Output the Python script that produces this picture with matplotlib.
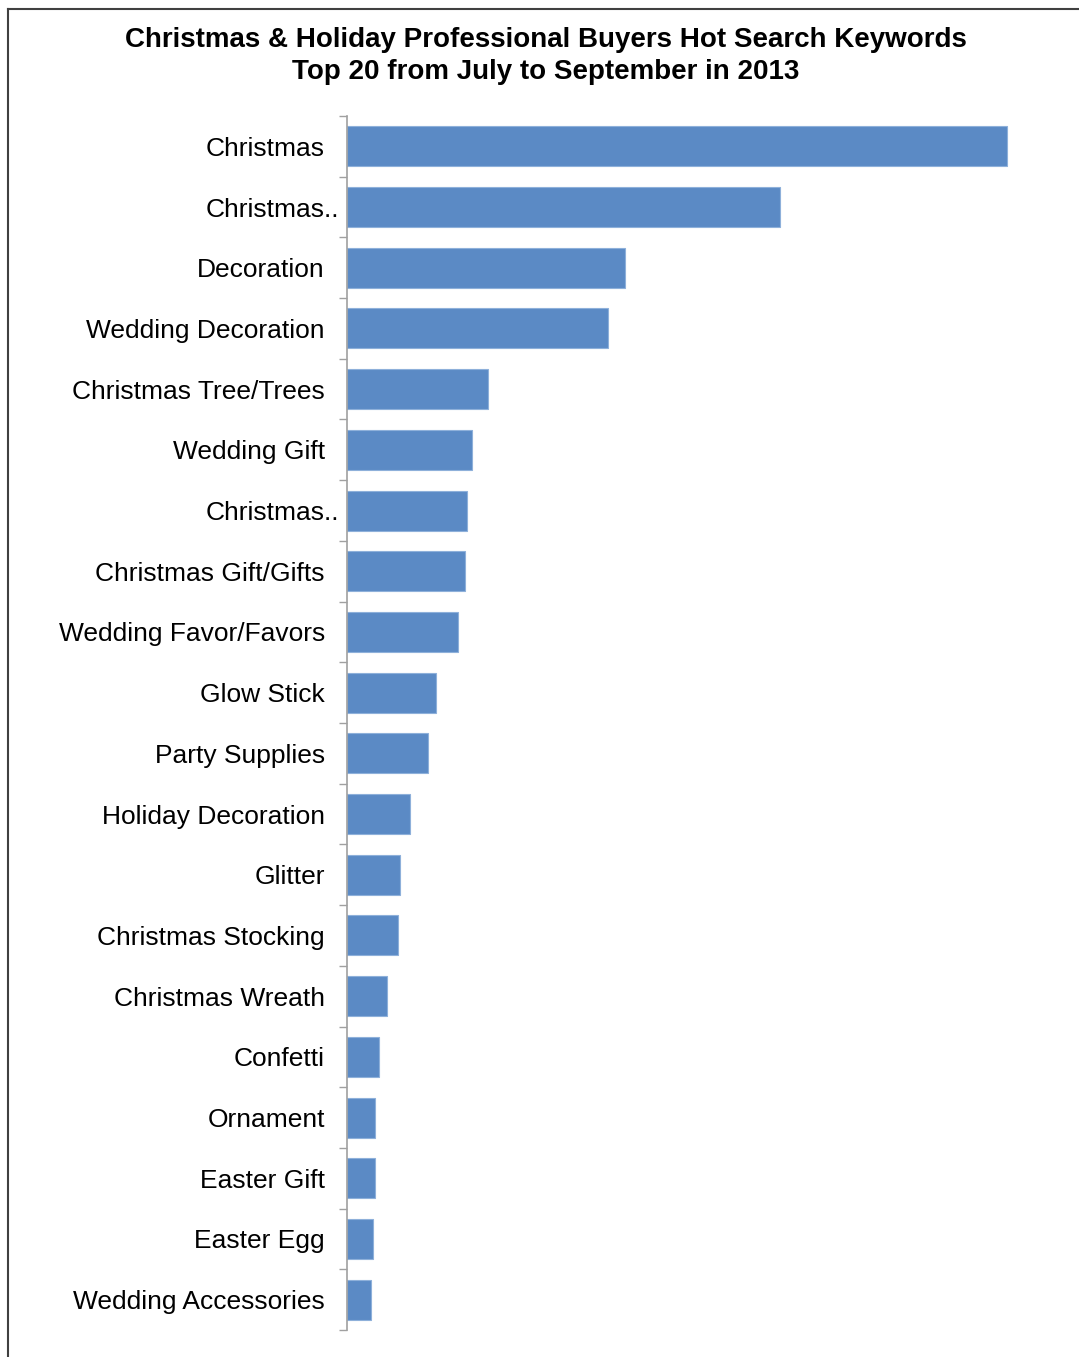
import numpy as np
import matplotlib.pyplot as plt
import matplotlib.transforms as mtransforms
from matplotlib.lines import Line2D

# keyword search volume (relative units)
keywords = [
    "Christmas", "Christmas..", "Decoration", "Wedding Decoration",
    "Christmas Tree/Trees", "Wedding Gift", "Christmas..", "Christmas Gift/Gifts",
    "Wedding Favor/Favors", "Glow Stick", "Party Supplies", "Holiday Decoration",
    "Glitter", "Christmas Stocking", "Christmas Wreath", "Confetti",
    "Ornament", "Easter Gift", "Easter Egg", "Wedding Accessories",
]
values = [660, 433, 278, 261, 141, 125, 120, 118, 111, 89,
          81, 63, 53, 51, 40, 32, 28, 28, 26, 24]

plt.rcParams['font.family'] = ['Liberation Sans', 'DejaVu Sans']

fig = plt.figure(figsize=(10.79, 13.57), dpi=100)
ax = fig.add_axes([347 / 1079, 1 - 1330 / 1357, 720 / 1079, (1330 - 116) / 1357])

y = np.arange(len(keywords))
ax.barh(y, values, height=0.66, color="#5B8AC5", edgecolor="#8EB0DA", linewidth=0.8)
ax.set_xlim(0, 720)
ax.set_ylim(len(keywords) - 0.5, -0.5)

ax.set_yticks(y)
ax.set_yticklabels(keywords, fontsize=19)
ax.tick_params(axis="y", which="major", length=0, pad=16)
ax.set_yticks(np.arange(-0.5, len(keywords), 1), minor=True)
ax.tick_params(axis="y", which="minor", length=6, color="#A0A0A0", width=1)
ax.set_xticks([])

for side in ["top", "right", "bottom"]:
    ax.spines[side].set_visible(False)
ax.spines["left"].set_color("#A0A0A0")
ax.spines["left"].set_linewidth(1.2)

# truncated labels hang past the right edge like the original
shift = mtransforms.ScaledTranslation(14 / 100, 0, fig.dpi_scale_trans)
for lab in ax.get_yticklabels():
    if lab.get_text().endswith(".."):
        lab.set_transform(lab.get_transform() + shift)

fig.text(0.506, 1 - 40 / 1357, "Christmas & Holiday Professional Buyers Hot Search Keywords",
         ha="center", va="center", fontsize=20, fontweight="bold")
fig.text(0.506, 1 - 72 / 1357, "Top 20 from July to September in 2013",
         ha="center", va="center", fontsize=20, fontweight="bold")

# outer frame (top and left edges)
fig.add_artist(Line2D([8 / 1079, 1], [1 - 9 / 1357, 1 - 9 / 1357], color="#404040", lw=1.5))
fig.add_artist(Line2D([8 / 1079, 8 / 1079], [0, 1 - 9 / 1357], color="#404040", lw=1.5))

fig.savefig("out.png", dpi=100)
